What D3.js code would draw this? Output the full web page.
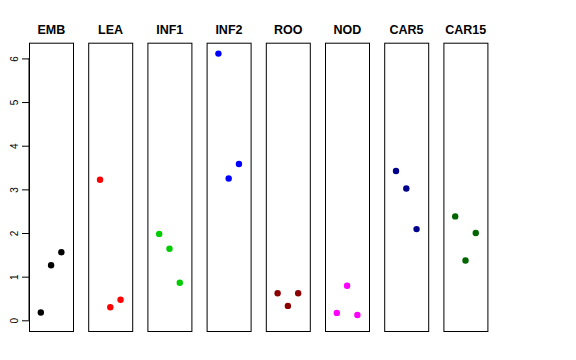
<!DOCTYPE html>
<html>
<head>
<meta charset="utf-8">
<script src="https://cdn.jsdelivr.net/npm/d3@7"></script>
<style>
  body { margin: 0; background: #fff; }
  text { font-family: "Liberation Sans", Arial, sans-serif; }
</style>
</head>
<body>
<svg id="chart" width="576" height="360"></svg>
<script>
// panel names, one per tissue
const categories = ["EMB", "LEA", "INF1", "INF2", "ROO", "NOD", "CAR5", "CAR15"]
const colors = ["#000000", "#ff0000", "#00cd00", "#0000ff", "#8b0000", "#ff00ff", "#00008b", "#006400"]
// three replicate values per panel
const values = [
  [0.18, 1.26, 1.56],
  [3.22, 0.30, 0.47],
  [1.98, 1.64, 0.86],
  [6.11, 3.25, 3.58],
  [0.62, 0.33, 0.62],
  [0.17, 0.79, 0.12],
  [3.42, 3.02, 2.09],
  [2.38, 1.37, 2.00]
]
const yTicks = [0, 1, 2, 3, 4, 5, 6]

var svg = d3.select("#chart")

var band = d3.scaleBand()
    .domain(categories)
    .range([29, 488.1])
    .paddingInner(0.245)
    .paddingOuter(0)

var y = d3.scaleLinear()
    .domain([-0.245, 6.36])
    .range([331, 42.7])

var xIn = d3.scaleLinear()
    .domain([-0.15, 4.2])
    .range([0, band.bandwidth()])

// y axis, R style: rotated labels
var yAxis = svg.append("g")
    .attr("transform", "translate(29,0)")
    .call(d3.axisLeft(y).tickValues(yTicks).tickFormat(d3.format("d")).tickSize(7).tickSizeOuter(0))

yAxis.select(".domain")
    .attr("d", "M0," + y(0) + "V" + y(6))
    .attr("stroke", "#000")
yAxis.selectAll(".tick line").attr("stroke", "#000")
yAxis.selectAll(".tick text")
    .attr("font-size", 10)
    .attr("fill", "#000")
    .attr("text-anchor", "middle")
    .attr("x", null)
    .attr("dy", "0.35em")
    .attr("transform", "translate(-15,0) rotate(-90)")

var panel = svg.selectAll("g.panel")
    .data(categories)
    .enter().append("g")
    .attr("class", "panel")
    .attr("transform", function(d) { return "translate(" + band(d) + ",0)" })

panel.append("rect")
    .attr("x", 0.5)
    .attr("y", y(6.36) + 0.5)
    .attr("width", Math.round(band.bandwidth()) - 1)
    .attr("height", y(-0.245) - y(6.36))
    .attr("fill", "none")
    .attr("stroke", "#000")
    .attr("stroke-width", 1)

panel.append("text")
    .attr("x", band.bandwidth() / 2)
    .attr("y", 33.5)
    .attr("text-anchor", "middle")
    .attr("font-size", 12.5)
    .attr("font-weight", "bold")
    .text(function(d) { return d })

panel.selectAll("circle")
    .data(function(d, i) {
      return values[i].map(function(v, j) { return { v: v, pos: j + 1, col: colors[i] } })
    })
    .enter().append("circle")
    .attr("cx", function(d) { return xIn(d.pos) })
    .attr("cy", function(d) { return y(d.v) })
    .attr("r", 3.2)
    .attr("fill", function(d) { return d.col })
</script>
</body>
</html>
